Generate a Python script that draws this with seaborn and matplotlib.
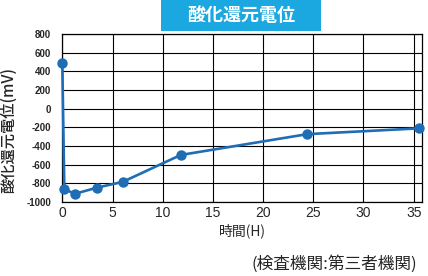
import matplotlib
matplotlib.use("Agg")
import matplotlib.pyplot as plt
import seaborn as sns
import pandas as pd
from matplotlib.patches import Rectangle

# data
hours = [0.0, 0.2, 1.25, 3.5, 6.0, 11.8, 24.4, 35.5]
orp_mv = [490, -862, -912, -845, -785, -496, -273, -211]
x_ticks = [0, 5, 10, 15, 20, 25, 30, 35]
y_ticks = [-1000, -800, -600, -400, -200, 0, 200, 400, 600, 800]
title = "酸化還元電位"
x_label = "時間(H)"
y_label = "酸化還元電位(mV)"
note = "(検査機関:第三者機関)"

sns.set_theme(style="white")
plt.rcParams['font.family'] = ['Noto Sans CJK JP', 'DejaVu Sans']

df = pd.DataFrame({"h": hours, "v": orp_mv})

fig = plt.figure(figsize=(4.28, 2.76), dpi=100)
ax = fig.add_axes([0.1456, 0.2681, 0.8397, 0.6087])

line_color = "#1f6db5"
sns.lineplot(data=df, x="h", y="v", ax=ax, color=line_color, linewidth=1.9,
             marker="o", markersize=7.5, markeredgewidth=0, sort=False,
             clip_on=False, zorder=5)

ax.set_xlim(0, 35.8)
ax.set_ylim(-1000, 800)
ax.set_xticks(x_ticks)
ax.set_yticks(y_ticks)
ax.set_xticklabels([str(t) for t in x_ticks], fontsize=10, family=['Liberation Sans', 'DejaVu Sans'])
ax.set_yticklabels([str(t) for t in y_ticks], fontsize=7, fontweight='bold', family=['Liberation Sans', 'DejaVu Sans'])
ax.tick_params(axis='both', length=0, pad=3)
ax.tick_params(axis='y', pad=8)
ax.grid(True, color='black', linewidth=0.8)
for s in ax.spines.values():
    s.set_color('black')
    s.set_linewidth(0.9)

ax.set_xlabel(x_label, fontsize=10, labelpad=2)
ax.set_ylabel(y_label, fontsize=11, fontweight='medium', labelpad=6)
ax.yaxis.set_label_coords(-0.125, 0.43)

fig.patches.append(Rectangle((0.376, 0.888), 0.374, 0.112, transform=fig.transFigure,
                             facecolor="#1ba8e0", edgecolor='none', zorder=0))
fig.text(0.563, 0.944, title, color='white', fontsize=13, fontweight='bold',
         ha='center', va='center')
fig.text(0.975, 0.043, note, fontsize=12, ha='right', va='center')

fig.savefig("out.png", dpi=100)
